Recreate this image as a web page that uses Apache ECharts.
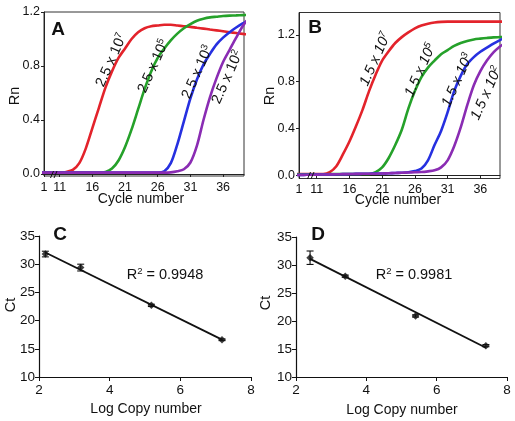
<!DOCTYPE html>
<html><head><meta charset="utf-8">
<script src="https://cdn.jsdelivr.net/npm/echarts@6/dist/echarts.min.js"></script>
<style>html,body{margin:0;padding:0;background:#fff}#c{width:515px;height:421px}</style>
</head><body><div id="c"></div>
<script>
// ---------- data ----------
const cycles = [8,9,10,11,12,13,14,15,16,17,18,19,20,21,22,23,24,25,26,27,28,29,30,31,32,33,34,35,36,37,38,39,40];
const redA    = [0.01,0.01,0.01,0.01,0.015,0.03,0.08,0.19,0.34,0.49,0.64,0.76,0.86,0.93,1.0,1.05,1.08,1.095,1.10,1.105,1.105,1.10,1.095,1.09,1.083,1.077,1.07,1.064,1.057,1.05,1.044,1.038,1.032];
const greenA  = [0.01,0.01,0.01,0.01,0.01,0.01,0.01,0.01,0.01,0.01,0.015,0.04,0.10,0.20,0.33,0.48,0.63,0.76,0.86,0.93,0.99,1.04,1.08,1.11,1.135,1.15,1.16,1.165,1.17,1.173,1.175,1.177,1.178];
const blueA   = [0.01,0.01,0.01,0.01,0.01,0.01,0.01,0.01,0.01,0.01,0.01,0.01,0.01,0.01,0.01,0.01,0.01,0.01,0.01,0.02,0.08,0.22,0.39,0.56,0.70,0.81,0.89,0.96,1.01,1.05,1.085,1.115,1.14];
const purpleA = [0.01,0.01,0.01,0.01,0.01,0.01,0.01,0.01,0.01,0.01,0.01,0.01,0.01,0.01,0.01,0.01,0.01,0.01,0.01,0.01,0.012,0.02,0.035,0.085,0.21,0.40,0.57,0.71,0.83,0.92,1.01,1.095,1.16];

const redB    = [0.012,0.012,0.012,0.012,0.013,0.03,0.08,0.18,0.29,0.42,0.56,0.72,0.86,0.98,1.06,1.13,1.18,1.22,1.255,1.28,1.295,1.305,1.31,1.312,1.312,1.312,1.312,1.312,1.312,1.312,1.312,1.312,1.312];
const greenB  = [0.01,0.01,0.01,0.011,0.011,0.012,0.012,0.012,0.013,0.013,0.013,0.014,0.03,0.07,0.15,0.26,0.39,0.57,0.72,0.84,0.92,0.98,1.035,1.07,1.105,1.13,1.148,1.16,1.167,1.173,1.178,1.18,1.182];
const blueB   = [0.005,0.006,0.007,0.008,0.009,0.01,0.011,0.012,0.013,0.014,0.015,0.016,0.017,0.018,0.02,0.022,0.024,0.028,0.038,0.06,0.13,0.26,0.38,0.54,0.72,0.85,0.95,1.01,1.055,1.09,1.125,1.155,1.18];
const purpleB = [0.005,0.006,0.007,0.008,0.009,0.01,0.011,0.012,0.013,0.014,0.015,0.016,0.016,0.018,0.02,0.022,0.024,0.026,0.028,0.03,0.036,0.045,0.07,0.13,0.25,0.41,0.60,0.77,0.89,0.98,1.05,1.10,1.14];

const cycleTicks = [11,16,21,26,31,36];
const firstCycleLabel = '1';
const rnTicks = [0,0.4,0.8,1.2];

const logC = [2.18,3.18,5.18,7.18];
const ctC  = [31.8,29.4,22.7,16.6];
const errC = [0.5,0.6,0.2,0.15];
const logD = [2.40,3.40,5.40,7.40];
const ctD  = [31.3,28.0,20.9,15.6];
const errD = [1.2,0.2,0.2,0.2];

const labelsA = ['2.5 x 10|7','2.5 x 10|5','2.5 x 10|3','2.5 x 10|2'];
const labelsB = ['1.5 x 10|7','1.5 x 10|5','1.5 x 10|3','1.5 x 10|2'];
const r2C = '0.9948', r2D = '0.9981';

// ---------- helpers ----------
const FONT = '"Liberation Sans", Arial, sans-serif';
const colors = ['#e3232b','#25a12a','#2630e0','#8a2cb3'];
const zip = (xs, ys) => xs.map((x,i)=>[x, ys[i]]);
const fit = (xs, ys) => {
  const n = xs.length, mx = xs.reduce((a,b)=>a+b)/n, my = ys.reduce((a,b)=>a+b)/n;
  let sxy=0,sxx=0; xs.forEach((x,i)=>{sxy+=(x-mx)*(ys[i]-my); sxx+=(x-mx)*(x-mx);});
  const b = sxy/sxx, a = my-b*mx;
  const x0 = Math.min(...xs), x1 = Math.max(...xs);
  return [[x0,a+b*x0],[x1,a+b*x1]];
};
const axisLine = {show:true, lineStyle:{color:'#222', width:1}};
const lbl = (fs) => ({color:'#111', fontFamily:FONT, fontSize:fs});

const xMinA = 8.6, xMaxA = 39.2, xMinB = 8.3, xMaxB = 39.0;
function cycleAxis(gi, min, max){
  const vals = [min].concat(cycleTicks);
  return {type:'value', gridIndex:gi, min, max,
    axisLine, splitLine:{show:false},
    axisTick:{customValues:vals, length:3, lineStyle:{color:'#222'}},
    axisLabel:Object.assign(lbl(12.5), {customValues:vals, margin:5,
      formatter:(v)=> (Math.abs(v-min)<1e-6 ? firstCycleLabel : String(v))})};
}
function rnAxis(gi, min, max){
  return {type:'value', gridIndex:gi, min, max,
    axisLine, splitLine:{show:false},
    axisTick:{customValues:rnTicks, length:3, lineStyle:{color:'#222'}},
    axisLabel:Object.assign(lbl(12.5), {customValues:rnTicks, margin:4, formatter:(v)=>v.toFixed(1)})};
}
function stdAxis(gi, min, max, interval, margin){
  return {type:'value', gridIndex:gi, min, max, interval,
    axisLine:{show:true, lineStyle:{color:'#111', width:1.2}}, splitLine:{show:false},
    axisTick:{show:true, length:4, lineStyle:{color:'#111'}},
    axisLabel:Object.assign(lbl(13.5), {margin})};
}
function curve(gi, ys, ci){
  return {type:'line', xAxisIndex:gi, yAxisIndex:gi, data:zip(cycles, ys), showSymbol:false,
    smooth:0.3, lineStyle:{width:2.6, color:colors[ci]}, itemStyle:{color:colors[ci]},
    silent:true, animation:false, clip:true};
}
function errSeries(gi, xs, ys, es){
  return {type:'custom', xAxisIndex:gi, yAxisIndex:gi, data:xs.map((x,i)=>[x,ys[i],es[i]]),
    encode:{x:0,y:1}, animation:false, silent:true,
    renderItem:(p, api)=>{
      const x=api.value(0), y=api.value(1), e=api.value(2);
      const t=api.coord([x,y+e]), b=api.coord([x,y-e]), hw=3.5;
      const st={stroke:'#111', lineWidth:1.1};
      return {type:'group', children:[
        {type:'line', shape:{x1:t[0],y1:t[1],x2:b[0],y2:b[1]}, style:st},
        {type:'line', shape:{x1:t[0]-hw,y1:t[1],x2:t[0]+hw,y2:t[1]}, style:st},
        {type:'line', shape:{x1:b[0]-hw,y1:b[1],x2:b[0]+hw,y2:b[1]}, style:st}]};
    }};
}
function pts(gi, xs, ys){
  return {type:'scatter', xAxisIndex:gi, yAxisIndex:gi, data:zip(xs,ys), symbol:'diamond', symbolSize:7.5,
    itemStyle:{color:'#111'}, animation:false, silent:true, z:5};
}
function fitLine(gi, xs, ys){
  return {type:'line', xAxisIndex:gi, yAxisIndex:gi, data:fit(xs,ys), showSymbol:false,
    lineStyle:{width:1.8, color:'#111'}, animation:false, silent:true};
}

// ---------- graphic texts ----------
function supText(x, y, s, italic, rot){
  const [base, sup] = s.split('|');
  const fst = italic ? 'italic' : 'normal';
  return {type:'text', x, y, rotation:rot*Math.PI/180, z:100,
    style:{text:'{a|'+base+'}{b|'+sup+'}', align:'center', verticalAlign:'middle',
      rich:{a:{fontFamily:FONT, fontSize:14.5, fontStyle:fst, fill:'#111', lineHeight:16, verticalAlign:'bottom'},
            b:{fontFamily:FONT, fontSize:9.5, fontStyle:fst, fill:'#111', lineHeight:16, verticalAlign:'top'}}}};
}
function txt(x, y, s, fs, opts){
  opts = opts||{};
  return {type:'text', x, y, rotation:(opts.rot||0)*Math.PI/180, z:100,
    style:{text:s, fontFamily:FONT, fontSize:fs, fontWeight:opts.bold?'bold':'normal', fill:'#111',
      align:'center', verticalAlign:'middle'}};
}
function r2(x, y, val){
  return {type:'text', x, y, z:100,
    style:{text:'{a|R}{b|2}{a| = '+val+'}', align:'center', verticalAlign:'middle',
      rich:{a:{fontFamily:FONT, fontSize:14.5, fill:'#111', lineHeight:16, verticalAlign:'bottom'},
            b:{fontFamily:FONT, fontSize:9.5, fill:'#111', lineHeight:16, verticalAlign:'top'}}}};
}
function brk(x, y){
  const st={stroke:'#111', lineWidth:1};
  return [{type:'line', z:100, shape:{x1:x-2,y1:y+3.5,x2:x+1,y2:y-3.5}, style:st},
          {type:'line', z:100, shape:{x1:x+1.5,y1:y+3.5,x2:x+4.5,y2:y-3.5}, style:st}];
}
const posA = [[111,60],[153,66],[197,72],[227,77]];
const posB = [[375,59],[420,70],[457,80],[486,93]];
const graphic = [].concat(
  labelsA.map((s,i)=>supText(posA[i][0], posA[i][1], s, false, 66)),
  labelsB.map((s,i)=>supText(posB[i][0], posB[i][1], s, true, 66)),
  [txt(58,30,'A',19,{bold:true}), txt(315,28,'B',19,{bold:true}),
   txt(60,235,'C',19,{bold:true}), txt(318,235,'D',19,{bold:true}),
   txt(15,96,'Rn',14.5,{rot:90}), txt(270,96,'Rn',14.5,{rot:90}),
   txt(141,199,'Cycle number',14), txt(398,200,'Cycle number',14),
   txt(11,305,'Ct',14.5,{rot:90}), txt(266,303,'Ct',14.5,{rot:90}),
   txt(146,409,'Log Copy number',14), txt(402,410,'Log Copy number',14),
   r2(165,274,r2C), r2(414,274,r2D)],
  brk(52.5,174.5), brk(309.5,175.5)
);

const option = {
  animation:false, backgroundColor:'#fff',
  grid:[
    {left:44, top:12, width:200, height:164, show:true, borderColor:'#333', borderWidth:1},
    {left:299, top:12.5, width:201, height:166, show:true, borderColor:'#333', borderWidth:1},
    {left:39, top:236, width:212, height:141},
    {left:296, top:237, width:211, height:140}
  ],
  xAxis:[cycleAxis(0,xMinA,xMaxA), cycleAxis(1,xMinB,xMaxB),
         stdAxis(2,2,8,2,6), stdAxis(3,2,8,2,6)],
  yAxis:[rnAxis(0,-0.015,1.2), rnAxis(1,-0.025,1.39),
         stdAxis(2,10,35,5,4), stdAxis(3,10,35,5,4)],
  series:[
    curve(0,redA,0), curve(0,greenA,1), curve(0,blueA,2), curve(0,purpleA,3),
    curve(1,redB,0), curve(1,greenB,1), curve(1,blueB,2), curve(1,purpleB,3),
    fitLine(2,logC,ctC), errSeries(2,logC,ctC,errC), pts(2,logC,ctC),
    fitLine(3,logD,ctD), errSeries(3,logD,ctD,errD), pts(3,logD,ctD)
  ],
  graphic
};
const chart = echarts.init(document.getElementById('c'), null, {renderer:'canvas'});
chart.setOption(option);
</script></body></html>
